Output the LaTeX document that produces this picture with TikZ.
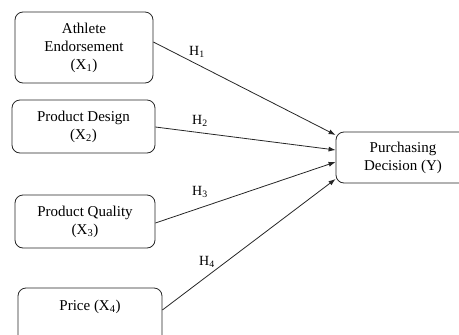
\documentclass[tikz,border=0pt]{standalone}
\usepackage{fontspec}
\setmainfont{Liberation Serif}
\usetikzlibrary{arrows.meta}
\tikzset{
  box/.style={draw=black!85, line width=0.8pt, rounded corners=8pt, align=center, inner sep=0pt, font=\fontsize{15}{18}\selectfont},
  arr/.style={draw=black!85, line width=0.8pt, -{Latex[length=7pt,width=5pt]}},
  hlab/.style={inner sep=0pt, font=\fontsize{14}{16}\selectfont},
}
\begin{document}
\begin{tikzpicture}[x=1pt,y=-1pt]
\useasboundingbox (0,0) rectangle (459,335);
\node[box, minimum width=138pt, minimum height=71pt] (x1) at (84,47.5) {Athlete\\Endorsement\\(X\textsubscript{1})};
\node[box, minimum width=143pt, minimum height=53pt] (x2) at (83.5,126.5) {Product Design\\(X\textsubscript{2})};
\node[box, minimum width=140pt, minimum height=53pt] (x3) at (85,221.5) {Product Quality\\(X\textsubscript{3})};
\node[box, minimum width=144pt, minimum height=60pt] (x4) at (90,318) {};
\node[inner sep=0pt, font=\fontsize{15}{18}\selectfont] (x4t) at (90,307) {Price (X\textsubscript{4})};
\node[box, minimum width=134pt, minimum height=51pt] (y) at (403,157.5) {Purchasing\\Decision (Y)};
\draw[arr] ([yshift=5.5pt]x1.east) -- ([yshift=22.5pt]y.west);
\draw[arr] ([yshift=-0.5pt]x2.east) -- ([yshift=7.5pt]y.west);
\draw[arr] ([yshift=-1.5pt]x3.east) -- ([yshift=-4.5pt]y.west);
\draw[arr] ([yshift=8pt]x4.east) -- ([yshift=-21.5pt]y.west);
\node[hlab] (h1) at (197,52) {H\textsubscript{1}};
\node[hlab] (h2) at (200,121) {H\textsubscript{2}};
\node[hlab] (h3) at (200,192) {H\textsubscript{3}};
\node[hlab] (h4) at (207,262) {H\textsubscript{4}};
\end{tikzpicture}
\end{document}
